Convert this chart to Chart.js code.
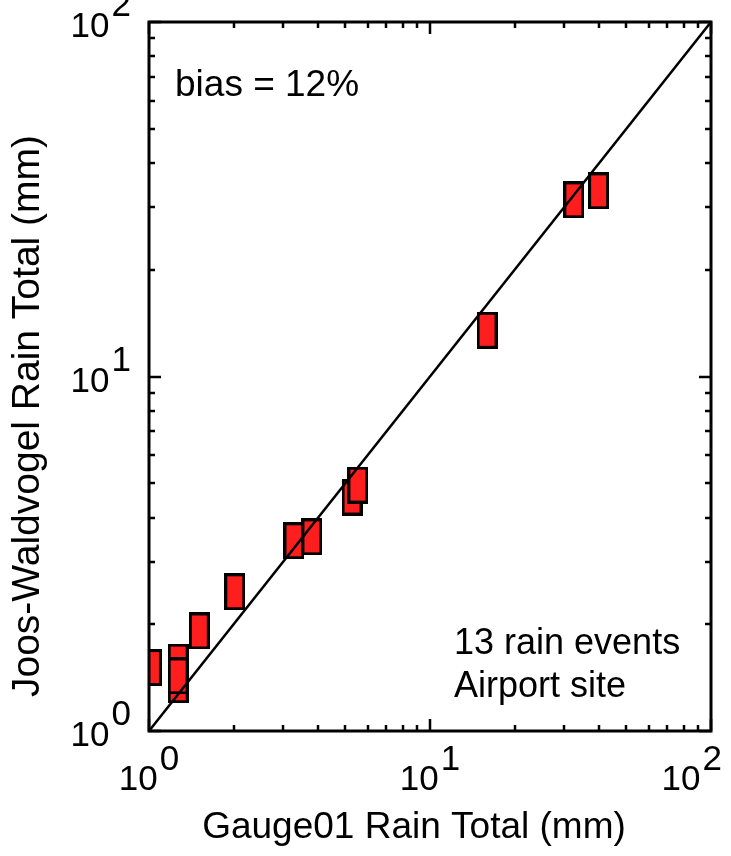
<!DOCTYPE html>
<html>
<head>
<meta charset="utf-8">
<script src="https://cdn.jsdelivr.net/npm/chart.js@4/dist/chart.umd.min.js"></script>
<style>
  body { margin: 0; background: #fff; }
  canvas { display: block; }
</style>
</head>
<body>
<canvas id="myChart" width="731" height="856"></canvas>
<script>
// rain totals per event (mm), drawing order as in the original
const gaugeTotal = [1.02, 1.27, 1.27, 1.27, 1.51, 2.02, 3.28, 3.80, 5.28, 5.54, 15.96, 32.5, 39.8];
const jwTotal = [1.51, 1.35, 1.565, 1.43, 1.915, 2.47, 3.44, 3.53, 4.57, 4.94, 13.5, 31.5, 33.4];
const oneToOne = [1, 100];
const decadeTicks = [1, 10, 100];
const decadeExps = ["0", "1", "2"];
const minorTicks = [2, 3, 4, 5, 6, 7, 8, 9, 20, 30, 40, 50, 60, 70, 80, 90];

const FAMILY = '"Liberation Sans", Arial, sans-serif';

// red box marker with black edge
const box = document.createElement("canvas");
box.width = 21;
box.height = 37;
const bctx = box.getContext("2d");
bctx.fillStyle = "#ff1e1e";
bctx.fillRect(0, 0, 21, 37);
bctx.strokeStyle = "#000";
bctx.lineWidth = 3;
bctx.strokeRect(1.5, 1.5, 18, 34);

const axesPlugin = {
  id: "axesPlugin",
  afterDraw(chart) {
    const c = chart.ctx;
    const a = chart.chartArea;
    const xs = chart.scales.x;
    const ys = chart.scales.y;
    c.save();
    c.strokeStyle = "#000";
    c.lineWidth = 3;
    c.strokeRect(a.left, a.top, a.right - a.left, a.bottom - a.top);

    c.beginPath();
    c.lineWidth = 2.5;
    const all = decadeTicks.map((v) => [v, 12]).concat(minorTicks.map((v) => [v, 6]));
    all.forEach(([v, len]) => {
      const px = Math.round(xs.getPixelForValue(v));
      c.moveTo(px, a.bottom);
      c.lineTo(px, a.bottom - len);
      c.moveTo(px, a.top);
      c.lineTo(px, a.top + len);
      const py = Math.round(ys.getPixelForValue(v));
      c.moveTo(a.left, py);
      c.lineTo(a.left + len, py);
      c.moveTo(a.right, py);
      c.lineTo(a.right - len, py);
    });
    c.stroke();

    // tick labels 10^n
    c.fillStyle = "#000";
    c.font = "35px " + FAMILY;
    c.textBaseline = "alphabetic";
    c.textAlign = "left";
    decadeTicks.forEach((v, i) => {
      const wb = c.measureText("10").width;
      const we = c.measureText(decadeExps[i]).width;
      const total = wb + 2 + we;
      // y axis
      const py = ys.getPixelForValue(v);
      const rx = 131 - total;
      c.fillText("10", rx, py + 15);
      c.fillText(decadeExps[i], rx + wb + 2, py - 6);
      // x axis
      const px = xs.getPixelForValue(v);
      let lx = px - total / 2;
      if (lx + total > 722) lx = 722 - total;
      c.fillText("10", lx, 790);
      c.fillText(decadeExps[i], lx + wb + 2, 770);
    });

    // annotations
    c.font = "37px " + FAMILY;
    c.fillText("bias = 12%", 175, 96);
    c.font = "36px " + FAMILY;
    c.fillText("13 rain events", 454, 654);
    c.fillText("Airport site", 454, 697);

    // axis titles
    c.textAlign = "center";
    c.font = "37px " + FAMILY;
    c.fillText("Gauge01 Rain Total (mm)", 414, 838);
    c.font = "39px " + FAMILY;
    c.translate(39, 416);
    c.rotate(-Math.PI / 2);
    c.fillText("Joos-Waldvogel Rain Total (mm)", 0, 0);
    c.restore();
  },
};

const ctx = document.getElementById("myChart").getContext("2d");
const myChart = new Chart(ctx, {
  type: "scatter",
  data: {
    datasets: [
      {
        type: "line",
        data: oneToOne.map((v) => ({ x: v, y: v })),
        borderColor: "#000",
        borderWidth: 2.5,
        pointRadius: 0,
        clip: 0,
      },
      {
        data: gaugeTotal.map((g, i) => ({ x: g, y: jwTotal[i] })),
        pointStyle: box,
        pointRadius: 10,
        clip: 0,
      },
    ],
  },
  options: {
    responsive: false,
    devicePixelRatio: 1,
    animation: false,
    events: [],
    layout: {
      padding: { left: 149, right: 20, top: 22, bottom: 125 },
    },
    plugins: {
      legend: { display: false },
      tooltip: { enabled: false },
    },
    scales: {
      x: {
        type: "logarithmic",
        min: 1,
        max: 100,
        ticks: { display: false },
        grid: { display: false, drawTicks: false },
        border: { display: false },
      },
      y: {
        type: "logarithmic",
        min: 1,
        max: 100,
        ticks: { display: false },
        grid: { display: false, drawTicks: false },
        border: { display: false },
      },
    },
  },
  plugins: [axesPlugin],
});
</script>
</body>
</html>
